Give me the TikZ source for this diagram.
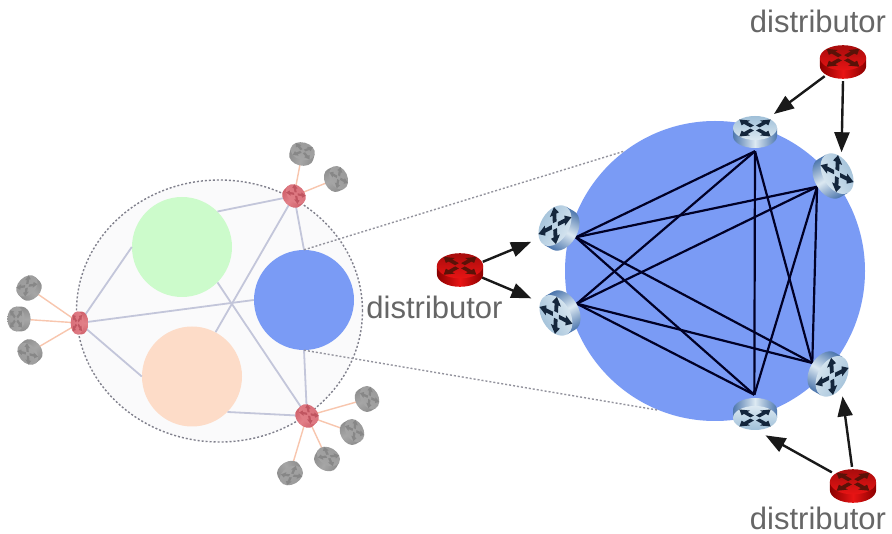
\documentclass[tikz,border=0pt]{standalone}
\usepackage{fontspec}
\setmainfont{Liberation Sans}
\usetikzlibrary{arrows.meta,shapes.geometric}
\definecolor{bigblue}{HTML}{7A9BF5}
\definecolor{softgreen}{HTML}{CCFBCB}
\definecolor{softpeach}{HTML}{FDDCC8}
\definecolor{lav}{HTML}{C3C6DA}
\definecolor{softorange}{HTML}{F8C6AE}
\definecolor{dotgray}{HTML}{80808C}
\definecolor{labelgray}{HTML}{666666}
\definecolor{domainfill}{HTML}{FAFAFB}
\definecolor{rbdark}{HTML}{4F78AE}
\definecolor{rblight}{HTML}{DCE9F2}
\definecolor{rbtop}{HTML}{9FBFD8}
\definecolor{rbglyph}{HTML}{14263C}
\definecolor{grdark}{HTML}{8E8E8E}
\definecolor{grlight}{HTML}{A6A6A6}
\definecolor{grtop}{HTML}{9A9A9A}
\definecolor{grglyph}{HTML}{878787}
\definecolor{srdark}{HTML}{D0616B}
\definecolor{srlight}{HTML}{E28088}
\definecolor{srtop}{HTML}{D9707A}
\definecolor{srglyph}{HTML}{C05560}
\definecolor{rrdark}{HTML}{8A0000}
\definecolor{rrlight}{HTML}{E81414}
\definecolor{rrtop}{HTML}{A80C0C}
\definecolor{rrglyph}{HTML}{5A1208}
\tikzset{
  x=1pt,y=-1pt,
  pics/routerpic/.style n args={5}{code={
    \path[top color=#1,bottom color=#1,middle color=#2,shading angle={90+#5}]
      (-22,-4)--(-22,4) arc[start angle=180,end angle=0,x radius=22,y radius=12]--(22,-4)--cycle;
    \path[top color=#3,bottom color=#2,shading angle={#5}]
      (0,-4) ellipse[x radius=22,y radius=12];
    \foreach \a/\f in {45/1,135/-1,225/1,315/-1}{
      \begin{scope}[shift={(0,-4)},yscale=.55,rotate=\a,xscale=\f]
        \fill[#4] (4,-2.5)--(13,-2.5)--(13,-6)--(22,0)--(13,6)--(13,2.5)--(4,2.5)--cycle;
      \end{scope}
    }
  }},
  hub/.style={circle,inner sep=0pt,minimum size=38pt},
  tinyhub/.style={circle,inner sep=0pt,minimum size=14pt},
  domainbox/.style={ellipse,inner sep=0pt,minimum width=286pt,minimum height=262pt,fill=domainfill,draw=dotgray,line width=1.4pt,dash pattern=on 2pt off 2pt},
  cluster/.style={circle,inner sep=0pt,minimum size=100pt,fill=#1},
  uplink/.style={draw=lav,line width=1.8pt},
  leaflink/.style={draw=softorange,line width=1.4pt},
  zoomline/.style={draw=dotgray!85,line width=1.4pt,dash pattern=on 2pt off 2pt},
  meshlink/.style={draw=black!85!blue,line width=2.2pt},
  feed/.style={draw=black!90,line width=2.4pt,-{Triangle[length=20pt,width=15pt]}},
  lbl/.style={text=labelgray,font=\fontsize{31}{31}\selectfont,inner sep=0pt},
}
\begin{document}
\begin{tikzpicture}
\useasboundingbox (0,0) rectangle (892,534);
\fill[white] (0,0) rectangle (892,534);
% left domain
\node[domainbox] (dom) at (219.5,311) {};
\node[tinyhub] (t1) at (294,196) {};
\node[tinyhub] (t2) at (79.5,323) {};
\node[tinyhub] (t3) at (307,416) {};
\node[cluster=softgreen] (green) at (182,247) {};
\node[cluster=softpeach] (peach) at (192,376.5) {};
\node[cluster=bigblue] (blue) at (304,300) {};
\draw[uplink] (t1) -- (green.45);
\draw[uplink] (t1) -- (peach.62);
\draw[uplink] (t1) -- (blue.north);
\draw[uplink] (t2) -- (green.west);
\draw[uplink] (t2) -- (blue.west);
\draw[uplink] (t2) -- (peach.west);
\draw[uplink] (t3) -- (blue.south);
\draw[uplink] (t3) -- (green.-45);
\draw[uplink] (t3) -- (peach.-45);
% leaves
\foreach \n/\x/\y in {g1/302/154,g2/336/179,g3/29/288,g4/19/319,g5/30/352,g6/367/399,g7/352/432,g8/327/459,g9/290/473}{
  \node[tinyhub] (\n) at (\x,\y) {};
}
\foreach \h/\l in {t1/g1,t1/g2,t2/g3,t2/g4,t2/g5,t3/g6,t3/g7,t3/g8,t3/g9}{
  \draw[leaflink] (\h) -- (\l);
}
\foreach \n/\r in {g1/-15,g2/-65,g3/45,g4/90,g5/130,g6/-60,g7/-60,g8/-30,g9/-150}{
  \pic[rotate=\r,scale=.56,yscale=1.3] at (\n) {routerpic={grdark}{grlight}{grtop}{grglyph}{\r}};
}
\foreach \n/\r/\s in {t1/-45/1.3,t2/90/1.06,t3/-45/1.3}{
  \pic[rotate=\r,scale=.52,yscale=\s] at (\n) {routerpic={srdark}{srlight}{srtop}{srglyph}{\r}};
}
% zoomed cluster
\node[circle,inner sep=0pt,minimum size=300pt,fill=bigblue] (big) at (715,271) {};
\draw[zoomline] (blue.north) -- (big.127);
\draw[zoomline] (blue.south) -- (big.248.4);
% routers
\node[hub] (A) at (755,132) {};
\node[hub] (B) at (833,176) {};
\node[hub] (C) at (828,374) {};
\node[hub] (D) at (755,414) {};
\node[hub] (E) at (560,313) {};
\node[hub] (F) at (559,228) {};
\node[hub] (R1) at (843,62) {};
\node[hub] (R2) at (853,486) {};
\node[hub] (R3) at (460,270) {};
% full mesh
\draw[meshlink] (F.-29) -- (A.270);
\draw[meshlink] (F.-29) -- (B.214.5);
\draw[meshlink] (F.-29) -- (C.145.5);
\draw[meshlink] (F.-29) -- (D.92);
\draw[meshlink] (E.29) -- (A.270);
\draw[meshlink] (E.29) -- (B.214.5);
\draw[meshlink] (E.29) -- (C.145.5);
\draw[meshlink] (E.29) -- (D.92);
\draw[meshlink] (A.270) -- (C.145.5);
\draw[meshlink] (A.270) -- (D.92);
\draw[meshlink] (B.214.5) -- (C.145.5);
\draw[meshlink] (B.214.5) -- (D.92);
% distributor feeds
\draw[feed,shorten <=4pt,shorten >=7pt] (R1.218) -- (A.46.5);
\draw[feed,shorten >=6.5pt] (R1.270) -- (B.64.4);
\draw[feed,shorten <=6pt,shorten >=6pt] (R2.146) -- (D.-74);
\draw[feed,shorten >=8.6pt] (R2.93) -- (C.-46.5);
\draw[feed,shorten <=5pt,shorten >=12pt] (R3.19) -- (F.209);
\draw[feed,shorten <=4pt,shorten >=13pt] (R3.-18) -- (E.150);
% router drawings
\foreach \n/\r/\s in {A/0/1,B/-60/1.18,C/-120/1.18,D/180/1,E/120/1.18,F/60/1.18}{
  \pic[rotate=\r,yscale=\s] at (\n) {routerpic={rbdark}{rblight}{rbtop}{rbglyph}{\r}};
}
\foreach \n in {R1,R2,R3}{
  \pic[scale=1.05] at (\n) {routerpic={rrdark}{rrlight}{rrtop}{rrglyph}{0}};
}
% labels
\node[lbl] (l1) at (818,21) {distributor};
\node[lbl] (l2) at (818,518) {distributor};
\node[lbl] (l3) at (434.5,307) {distributor};
\end{tikzpicture}
\end{document}
